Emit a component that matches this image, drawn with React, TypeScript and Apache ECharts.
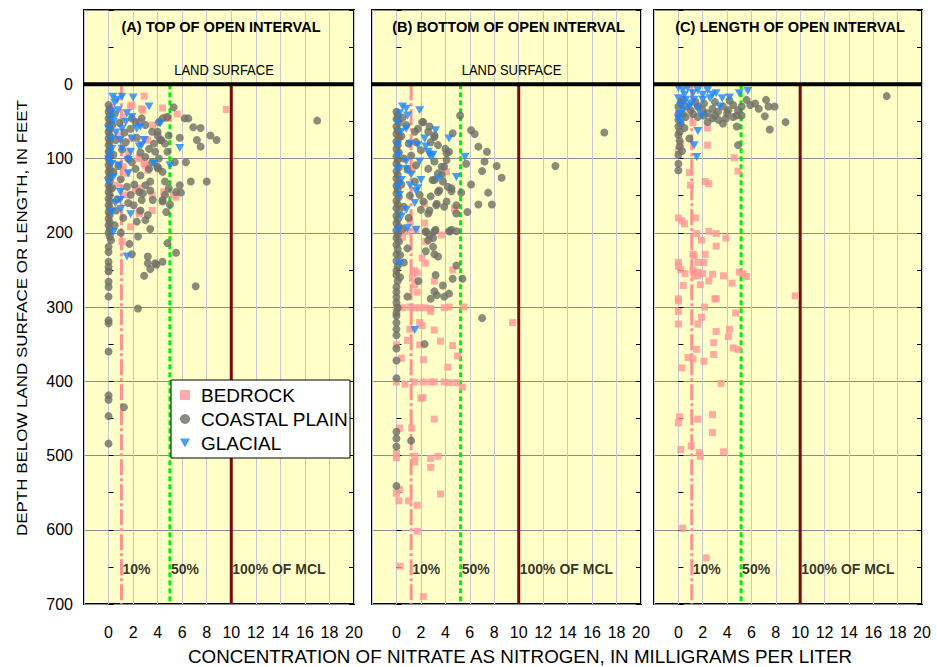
import React, { useEffect, useRef } from "react";
import * as echarts from "echarts";

type P = [number, number];

// ---------- data: nitrate (mg/L as N) vs depth / length (ft) ----------
const seriesNames = ["BEDROCK", "COASTAL PLAIN", "GLACIAL"];
const panelTitles = ["(A) TOP OF OPEN INTERVAL", "(B) BOTTOM OF OPEN INTERVAL", "(C) LENGTH OF OPEN INTERVAL"];
const refLabels = ["10%", "50%", "100% OF MCL"];
// reference lines (10%, 50%, 100% of MCL) as drawn in each panel
const refA = [1.05, 5.0, 10];
const refB = [1.2, 5.25, 10];
const refC = [1.1, 5.15, 10];
const refLabelY = 653;

const topBedrock: P[] = [
  [2.9, 16], [9.6, 34], [1.8, 30], [2.8, 35], [4.4, 32], [5.6, 40], [4.7, 44], [3.6, 55], [3.2, 75], [2.9, 107],
  [3.2, 116], [2.5, 98], [2.2, 143], [5.5, 152], [2.5, 174], [1.8, 192], [1.1, 212], [0.2, 31], [0.2, 39], [0, 252],
  [1.9, 28], [4.9, 46], [2.7, 33], [2.5, 51], [1.2, 44], [0.8, 69], [1.9, 73], [3.0, 75], [1.6, 91], [2.5, 100],
  [3.0, 109], [1.2, 111], [2.5, 140], [1.4, 149], [3.55, 149], [4.5, 145], [5.3, 149], [3.55, 170], [2.5, 172],
  [0.7, 136], [1.5, 120], [4.1, 114], [0.1, 60], [0.3, 120],
];
const topCoastal: P[] = [
  [0, 28], [0.1, 33], [0, 37], [0.1, 42], [0, 46], [0.1, 50], [0, 55], [0.1, 60], [0, 64], [0.1, 69], [0, 73],
  [0.1, 78], [0, 82], [0.1, 87], [0, 91], [0.1, 96], [0, 100], [0.1, 105], [0, 109], [0.1, 114], [0, 118],
  [0.1, 123], [0, 127], [0.1, 131], [0, 136], [0.1, 140], [0, 145], [0.1, 149], [0, 154], [0.1, 158], [0, 163],
  [0.1, 167], [0, 172], [0.1, 176], [0, 181], [0.1, 186], [0, 190], [0.1, 195], [0, 200], [0.1, 205], [0.2, 210],
  [0, 219], [0, 226], [0, 239], [0, 246], [0, 252], [0, 266], [0, 273], [0, 286], [0, 318], [0, 322], [0, 360],
  [0, 419], [0, 425], [0, 447], [0, 484],
  [0.5, 40], [0.9, 52], [1.3, 65], [0.6, 75], [1.1, 88], [1.6, 100], [0.4, 118], [1.0, 128], [1.5, 138], [0.7, 155],
  [1.2, 180], [0.5, 190], [1.8, 60], [2.3, 72], [2.6, 92], [2.1, 135], [1.6, 160], [2.3, 185], [1.0, 200], [0.4, 95],
  [0.8, 110], [0.3, 140], [0.6, 170], [1.4, 78], [0.3, 55],
  [1.9, 46], [2.2, 51], [2.7, 46], [3.0, 55], [3.55, 64], [4.0, 69], [4.2, 75], [3.7, 80], [3.3, 87], [3.8, 91],
  [4.1, 100], [3.55, 105], [3.0, 98], [3.3, 114], [2.6, 123], [2.2, 114], [1.9, 105], [4.4, 118], [4.0, 111],
  [3.4, 131], [3.0, 136], [2.5, 145], [2.7, 156], [2.05, 163], [2.6, 170], [1.8, 149], [4.6, 131], [4.6, 149],
  [4.4, 156], [4.4, 46], [4.8, 44], [4.9, 69], [4.6, 80], [4.9, 140], [5.5, 145], [4.1, 51],
  [17.0, 49], [5.3, 31], [6.2, 46], [6.5, 46], [6.9, 58], [7.5, 59], [8.3, 69], [8.8, 75], [7.2, 75], [7.5, 84],
  [5.8, 72], [6.3, 105], [5.4, 105], [8.0, 131], [6.7, 131], [5.8, 136], [5.9, 146], [4.4, 158], [5.0, 162],
  [4.7, 172], [3.6, 156], [3.4, 143], [4.0, 113], [4.8, 91], [4.0, 64], [4.3, 75], [3.2, 176], [3.4, 195],
  [4.8, 214], [2.8, 147], [3.0, 183], [2.4, 205], [1.7, 215],
  [5.5, 227], [1.9, 229], [3.2, 232], [3.2, 241], [3.4, 249], [3.8, 241], [3.9, 243], [4.4, 239], [2.9, 258],
  [7.1, 272], [2.4, 302], [1.25, 435],
];
const topGlacial: P[] = [
  [0.35, 17], [1.1, 17], [2.0, 18], [0.7, 21], [0.5, 25], [3.3, 30], [0.8, 35], [0.27, 37], [1.5, 39], [1.9, 44],
  [0.2, 45], [0.4, 51], [1.4, 51], [4.2, 53], [2.6, 57], [0, 60], [1.1, 60], [2.3, 60], [0.6, 65], [0.27, 73],
  [1.9, 73], [0.96, 75], [2.9, 75], [2.7, 82], [2.5, 84], [5.8, 86], [0.27, 87], [1.1, 87], [1.8, 91], [0.1, 95],
  [0, 101], [1.6, 102], [0.27, 107], [3.7, 107], [0.8, 109], [5.0, 109], [1.6, 120], [0.4, 125], [0, 131],
  [0.96, 145], [0.96, 156], [0.55, 160], [1.0, 168], [0.27, 172], [1.8, 175], [0.4, 199], [1.5, 232],
];

const botBedrock: P[] = [
  [2.3, 161], [1.1, 185], [2.3, 187], [3.7, 203], [0.5, 206], [2.4, 212], [1.6, 196], [4.1, 118], [4.8, 170],
  [1.3, 114], [4.75, 167], [0.1, 208], [0.9, 198],
  [2.1, 234], [2.4, 241], [1.5, 251], [1.7, 254], [4.6, 250], [1.3, 261], [1.5, 270], [1.7, 280], [3.1, 265],
  [0, 301], [0.5, 301], [1.1, 300], [1.5, 301], [1.9, 301], [2.3, 301], [2.8, 302], [3.9, 301], [4.3, 300], [5.5, 300],
  [2.8, 306], [9.5, 321], [1.9, 321], [2.1, 325], [1.1, 330], [3.1, 331], [0.9, 345], [3.6, 346], [1.9, 351],
  [4.6, 352], [0, 351], [5.0, 366], [0.4, 369], [2.2, 371], [4.2, 381],
  [0, 401], [0.7, 404], [1.5, 401], [2.2, 401], [2.8, 401], [3.1, 401], [3.9, 401], [4.3, 402], [4.9, 402], [5.4, 408],
  [2.0, 423], [2.15, 422], [3.1, 451], [0.25, 463], [1.25, 463], [0, 497], [0, 503], [1.5, 501], [1.5, 509],
  [2.8, 504], [3.4, 501], [2.8, 516], [0.25, 546], [0, 551], [0.2, 561], [1.0, 561], [1.7, 567], [3.6, 552],
  [1.7, 602], [0.3, 649], [2.2, 690],
];
const botCoastal: P[] = [
  [17.0, 65], [13.0, 110], [5.2, 42], [6.1, 62], [6.4, 67], [4.6, 66], [6.7, 84], [7.4, 91], [7.2, 104], [8.2, 110],
  [5.7, 107], [7.0, 117], [8.6, 126], [6.1, 135], [7.5, 146], [6.7, 162], [7.8, 162], [5.8, 172], [5.3, 146],
  [4.5, 144], [4.0, 87], [4.3, 91], [3.9, 111], [3.1, 71], [2.2, 51], [2.7, 57], [3.7, 122], [3.1, 129], [3.5, 143],
  [3.9, 165], [3.3, 161], [2.7, 170], [3.2, 196], [4.5, 196], [2.6, 210], [0.9, 221],
  [2.1, 51], [1.75, 60], [2.6, 64], [3.1, 69], [2.8, 78], [3.4, 82], [4.1, 93], [4.1, 102], [3.7, 111], [3.1, 104],
  [2.6, 114], [3.4, 120], [2.95, 129], [3.8, 131], [4.2, 138], [3.4, 145], [2.8, 151], [2.2, 158], [3.25, 163],
  [4.1, 158], [4.5, 140], [4.9, 163], [4.9, 174], [4.3, 198], [3.1, 198], [2.4, 198], [2.6, 174], [2.0, 169],
  [1.9, 149], [1.5, 131], [1.6, 109], [1.2, 96], [2.0, 89], [1.6, 78], [1.5, 64],
  [0, 37], [0.1, 42], [0, 47], [0.2, 52], [0, 57], [0.1, 62], [0, 67], [0.2, 72], [0, 77], [0.1, 82], [0, 87],
  [0.2, 92], [0, 97], [0.1, 102], [0, 107], [0.2, 112], [0, 117], [0.1, 122], [0, 127], [0.2, 132], [0, 137],
  [0.1, 142], [0, 147], [0.2, 152], [0, 157], [0.1, 162], [0, 167], [0.2, 172], [0, 177], [0.1, 182], [0, 187],
  [0.2, 192], [0, 197], [0.1, 202], [0, 207], [0.2, 212], [0, 216], [0.1, 222], [0, 229], [0, 238], [0.1, 245],
  [0, 251], [0, 257], [0.1, 265], [0, 273], [0, 280], [0, 287], [0, 294], [0.1, 301], [0, 308], [0, 312], [0, 321],
  [0, 330], [0, 338], [0, 356], [0, 372], [0, 396], [0, 468], [0, 477], [0, 488], [0, 541],
  [0.5, 45], [0.8, 55], [0.4, 70], [1.0, 80], [0.6, 100], [0.9, 115], [0.4, 135], [1.1, 150], [0.6, 165],
  [1.0, 180], [0.5, 195], [0.3, 230], [0.6, 240], [0.3, 260],
  [2.4, 199], [3.0, 207], [2.7, 203], [4.4, 198], [4.9, 198], [2.4, 225], [3.0, 219], [3.1, 229], [3.4, 232],
  [4.9, 244], [3.2, 257], [1.8, 265], [4.6, 262], [5.4, 262], [3.8, 271], [3.1, 279], [4.3, 282], [3.9, 286],
  [3.3, 284], [2.8, 289], [0.9, 286], [7.0, 315], [2.3, 350], [1.2, 480],
];
const botGlacial: P[] = [
  [0.5, 30], [0.8, 33], [0.25, 39], [0.9, 42], [1.9, 35], [0.1, 51], [0.8, 60], [0.4, 64], [3.2, 62], [2.3, 73],
  [4.3, 73], [0.1, 82], [1.1, 80], [1.75, 82], [2.4, 84], [2.6, 91], [2.8, 98], [0.1, 96], [0.8, 104], [1.9, 104],
  [5.6, 98], [0.1, 114], [0.8, 114], [1.2, 122], [3.4, 127], [4.9, 125], [0.4, 129], [2.0, 129], [0.1, 138],
  [1.1, 136], [1.75, 140], [0.25, 149], [1.5, 160], [0.8, 169], [0.4, 178], [0.1, 196], [0.9, 194], [1.6, 196],
  [0.25, 241], [1.5, 331], [2.7, 95], [3.0, 95], [1.6, 144],
];

const lenBedrock: P[] = [
  [0.2, 80], [0, 89], [2.4, 82], [2.4, 59], [1.2, 52], [4.6, 99], [4.9, 117], [0.9, 119], [1.0, 136], [2.2, 131],
  [2.5, 134], [0, 180], [0.3, 184], [0.5, 188], [1.4, 180], [1.5, 201], [1.9, 210], [2.5, 198], [3.1, 201],
  [3.9, 207], [3.1, 218], [1.2, 229], [1.3, 231], [2.2, 229], [0, 240], [0, 245], [1.6, 240], [2.1, 240],
  [0.2, 250], [0.55, 255], [1.2, 250], [1.6, 253], [2.0, 255], [1.3, 258], [1.6, 258], [2.8, 256], [3.7, 258],
  [5.0, 253], [5.3, 255], [5.6, 259], [2.5, 265], [4.4, 268], [0.4, 271], [1.8, 270], [9.6, 285], [0, 289],
  [0, 292], [3.0, 289], [3.1, 289], [2.15, 300], [0, 306], [4.7, 308], [1.9, 314], [0, 323], [1.6, 323],
  [4.2, 330], [3.1, 333], [4.1, 340], [2.9, 348], [4.5, 355], [4.9, 357], [1.5, 357], [2.9, 364], [0.8, 368],
  [1.2, 370], [2.1, 373], [0.3, 382], [3.5, 403], [0.1, 448], [0, 456], [1.6, 451], [2.8, 445], [2.8, 469],
  [0.2, 492], [1.05, 487], [1.7, 496], [1.8, 501], [3.7, 495], [0.35, 598], [2.3, 638],
];
const lenCoastal: P[] = [
  [0.36, 21], [0.6, 30], [1.0, 35], [1.6, 30], [2.1, 26], [2.8, 33], [3.25, 37], [3.66, 30], [4.1, 35], [4.5, 28],
  [4.9, 35], [5.2, 42], [4.5, 44], [3.9, 46], [3.3, 48], [2.8, 46], [2.1, 42], [1.6, 44], [1.2, 40], [0.6, 44],
  [0.2, 53], [0.5, 59], [0.1, 64], [0, 68], [2.4, 39], [3.0, 42], [4.0, 39], [4.8, 42], [5.2, 30], [5.6, 21],
  [5.9, 28], [6.3, 26], [6.6, 33], [0, 40], [0, 48], [0, 57], [0.36, 40], [2.4, 51], [3.66, 53], [2.0, 35],
  [0, 30], [0.2, 25], [1.4, 24], [3.0, 24], [4.2, 22],
  [17.1, 16], [7.2, 21], [7.4, 30], [7.9, 30], [7.1, 43], [8.8, 51], [7.5, 61], [4.9, 82], [4.8, 57], [0.9, 73],
  [0, 107], [0, 116], [0.1, 84], [0, 95], [0.1, 76], [0.3, 90],
];
const lenGlacial: P[] = [
  [0, 5], [0.36, 8], [0.77, 5], [1.2, 12], [1.6, 8], [2.0, 14], [2.4, 8], [2.8, 14], [0, 19], [0.6, 21], [1.3, 21],
  [2.0, 21], [0.2, 28], [0.9, 30], [1.6, 33], [3.4, 30], [3.6, 19], [4.2, 18], [5.0, 12], [5.7, 9], [0, 46],
  [1.9, 42], [1.6, 63], [1.3, 82], [1.5, 98], [0.36, 35], [0.1, 40], [2.6, 19], [3.1, 12], [0.5, 14], [1.0, 26],
  [0.2, 52],
];

// ---------- styling ----------
const FONT = 'Arial, "Liberation Sans", Helvetica, sans-serif';
const BG = "#FFFFC8";
const C_BED = "#FF9696";
const C_COAST = "#6E6E66";
const C_GLAC = "#1A84FF";
const DOWN_TRIANGLE = "path://M0,0L10,0L5,9Z";

const panels = [
  { left: 84, width: 270, bed: topBedrock, coast: topCoastal, glac: topGlacial, ref: refA, title: panelTitles[0], land: true },
  { left: 372, width: 269, bed: botBedrock, coast: botCoastal, glac: botGlacial, ref: refB, title: panelTitles[1], land: true },
  { left: 654, width: 268, bed: lenBedrock, coast: lenCoastal, glac: lenGlacial, ref: refC, title: panelTitles[2], land: false },
];

function buildOption(): any {
  const grid: any[] = [];
  const xAxis: any[] = [];
  const yAxis: any[] = [];
  const series: any[] = [];
  const graphic: any[] = [];

  panels.forEach((p, i) => {
    grid.push({
      left: p.left, top: 10, width: p.width, height: 594, show: true,
      backgroundColor: BG, borderColor: "#000", borderWidth: 2,
    });
    xAxis.push({
      gridIndex: i, type: "value", min: -2, max: 20, interval: 2,
      axisLine: { show: false }, axisTick: { show: false },
      axisLabel: {
        formatter: (v: number) => (v < 0 ? "" : String(v)),
        fontSize: 16, color: "#000", margin: 20, fontFamily: FONT,
      },
      splitLine: { show: true, lineStyle: { color: "#C6C6D6", width: 1 } },
    });
    const yBase = {
      gridIndex: i, type: "value", inverse: true, min: -100, max: 700, interval: 100,
      axisLine: { show: false },
      axisTick: { show: true, inside: true, length: 5, lineStyle: { color: "#000" } },
      minorTick: { show: true, splitNumber: 2, length: 5, lineStyle: { color: "#000" } },
    };
    yAxis.push({
      ...yBase, position: "left",
      axisLabel: {
        show: i === 0, formatter: (v: number) => (v < 0 ? "" : String(v)),
        fontSize: 16, color: "#000", margin: 11, fontFamily: FONT,
      },
      splitLine: { show: true, lineStyle: { color: "#8C8C8C", width: 1 } },
    });
    yAxis.push({ ...yBase, position: "right", axisLabel: { show: false }, splitLine: { show: false } });
    const yi = i * 2;

    // reference lines
    const refStyles = [
      { color: "#FF9090", width: 3, type: [16, 3, 3, 3] },
      { color: "#00EE00", width: 3, type: [5, 3] },
      { color: "#7A0A0A", width: 3, type: "solid" },
    ];
    p.ref.forEach((rx, k) => {
      series.push({
        type: "line", xAxisIndex: i, yAxisIndex: yi, data: [[rx, 0], [rx, 700]],
        symbol: "none", silent: true, z: 1, lineStyle: refStyles[k],
      });
    });
    // reference labels
    series.push({
      type: "scatter", xAxisIndex: i, yAxisIndex: yi, symbolSize: 0, silent: true, z: 5,
      data: p.ref.map((rx, k) => ({ value: [rx, refLabelY], name: refLabels[k] })),
      label: {
        show: true, position: "right", distance: 1, formatter: "{b}",
        fontSize: 14, fontWeight: "bold", color: "#000", fontFamily: FONT,
      },
    });
    // data
    series.push({
      name: seriesNames[0], type: "scatter", xAxisIndex: i, yAxisIndex: yi, data: p.bed,
      symbol: "rect", symbolSize: 7, itemStyle: { color: C_BED }, z: 2,
    });
    series.push({
      name: seriesNames[1], type: "scatter", xAxisIndex: i, yAxisIndex: yi, data: p.coast,
      symbol: "circle", symbolSize: 8, itemStyle: { color: C_COAST }, z: 3,
    });
    series.push({
      name: seriesNames[2], type: "scatter", xAxisIndex: i, yAxisIndex: yi, data: p.glac,
      symbol: DOWN_TRIANGLE, symbolSize: [9, 8], itemStyle: { color: C_GLAC }, z: 4,
    });
    // land surface line
    series.push({
      type: "line", xAxisIndex: i, yAxisIndex: yi, data: [[-2, 0], [20, 0]], symbol: "none",
      silent: true, z: 6, lineStyle: { color: "#000", width: 4 },
    });

    const cx = p.left + p.width / 2;
    graphic.push({
      type: "text", x: cx + 2, y: 27, z: 20,
      style: {
        text: p.title, fontSize: 14.6, fontWeight: "bold", fontFamily: FONT, fill: "#000",
        textAlign: "center", textVerticalAlign: "middle", align: "center", verticalAlign: "middle",
      },
    });
    if (p.land) {
      graphic.push({
        type: "text", x: cx + 5, y: 70, z: 20, scaleY: 1.12,
        style: {
          text: "LAND SURFACE", fontSize: 13, fontFamily: FONT, fill: "#000",
          textAlign: "center", textVerticalAlign: "middle", align: "center", verticalAlign: "middle",
        },
      });
    }
  });

  // legend box
  graphic.push({
    type: "rect", z: 10, shape: { x: 171, y: 380, width: 179, height: 78 },
    style: { fill: "#fff", stroke: "#000", lineWidth: 1 },
  });
  // axis titles
  graphic.push({
    type: "text", x: 22, y: 318, rotation: Math.PI / 2, scaleX: 1.13, z: 20,
    style: {
      text: "DEPTH BELOW LAND SURFACE OR LENGTH, IN FEET", fontSize: 15, fontFamily: FONT, fill: "#000",
      textAlign: "center", textVerticalAlign: "middle", align: "center", verticalAlign: "middle",
    },
  });
  graphic.push({
    type: "text", x: 520, y: 656, z: 20,
    style: {
      text: "CONCENTRATION OF NITRATE AS NITROGEN, IN MILLIGRAMS PER LITER", fontSize: 18.8,
      fontFamily: FONT, fill: "#000",
      textAlign: "center", textVerticalAlign: "middle", align: "center", verticalAlign: "middle",
    },
  });

  return {
    animation: false,
    backgroundColor: "#fff",
    grid, xAxis, yAxis, series, graphic,
    legend: {
      data: seriesNames, orient: "vertical", left: 180, top: 385, padding: 0,
      itemWidth: 10, itemHeight: 10, itemGap: 4, z: 30, selectedMode: false,
      textStyle: { fontSize: 19, color: "#000", fontFamily: FONT, lineHeight: 20, padding: [0, 0, 0, 6] },
    },
  };
}

export default function App() {
  const ref = useRef<HTMLDivElement>(null);
  useEffect(() => {
    if (!ref.current) return;
    const chart = echarts.init(ref.current, undefined, { renderer: "svg" });
    chart.setOption(buildOption());
    return () => chart.dispose();
  }, []);
  return <div ref={ref} style={{ width: 937, height: 667, position: "absolute", left: 0, top: 0 }} />;
}
